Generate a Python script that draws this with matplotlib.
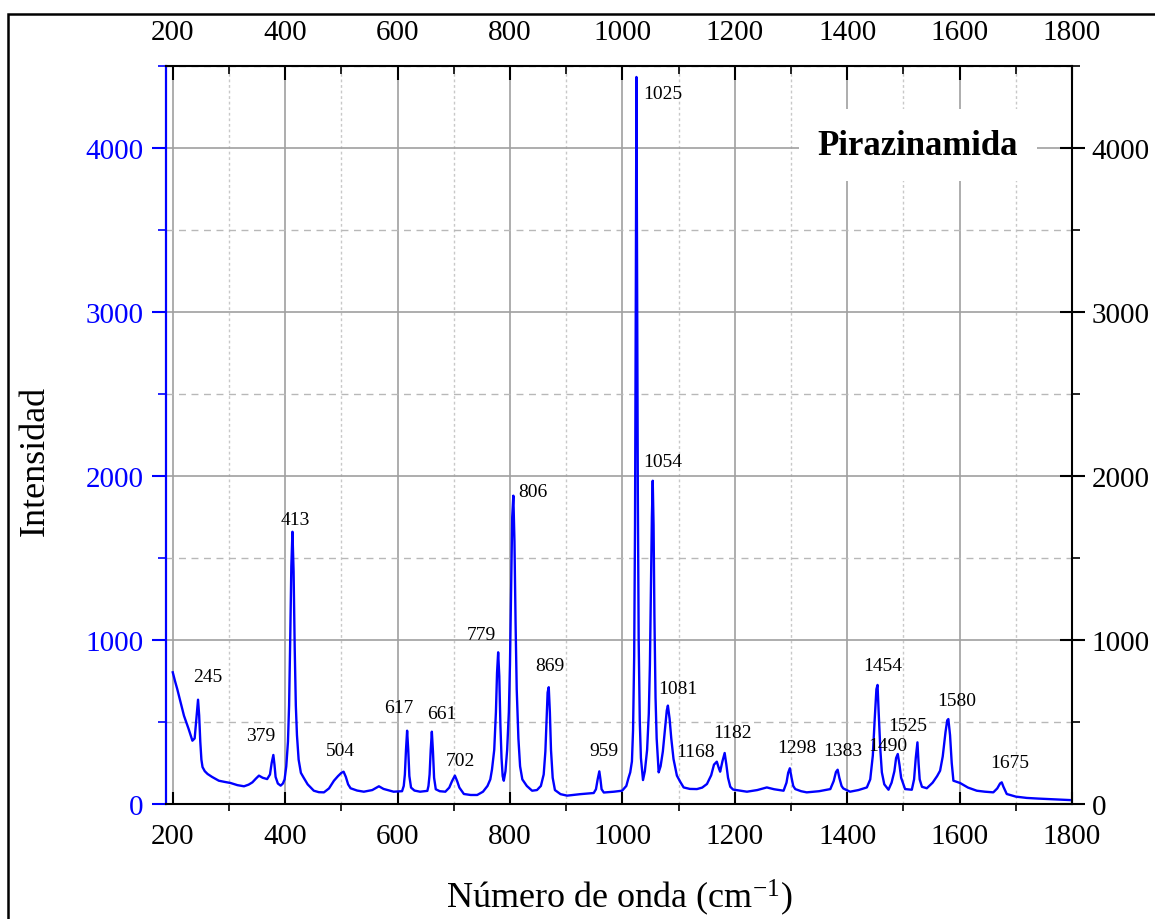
import matplotlib
matplotlib.use("Agg")
import matplotlib.pyplot as plt
from matplotlib.ticker import MultipleLocator
from matplotlib.patches import Rectangle

plt.rcParams['font.family'] = ['Liberation Serif', 'DejaVu Serif']
plt.rcParams['mathtext.default'] = 'regular'

# Raman spectrum, traced point by point (wavenumber cm-1 / intensity), 10 per row
wavenumber = [
    200, 204, 208, 214, 220, 228, 235, 239, 242, 245,
    247, 249, 251, 253, 257, 262, 270, 282, 292, 303,
    315, 326.8, 335, 341.7, 348, 353.4, 360, 368, 373, 376,
    379, 381, 383, 387, 392, 396, 399, 402, 405, 407,
    409, 411, 413, 415, 417, 419, 421, 424, 428, 433,
    440, 451, 460, 469, 478, 486.8, 494, 500, 504, 508,
    512, 516.4, 528, 540, 555, 566.8, 575, 593, 608, 611,
    613, 615, 617, 619, 621, 624, 630, 640, 653, 655,
    657, 659, 661, 663, 665, 668, 675, 685, 692, 697,
    702, 706, 710, 718, 730, 741.7, 752, 760, 765, 768,
    772, 775, 777, 779, 781, 783, 785, 787, 789, 792,
    795, 798, 800, 802, 804, 806, 808, 810, 812, 815,
    818, 822, 830, 839.4, 848, 855, 860, 863, 865, 867,
    869, 871, 873, 876, 880, 890, 901.7, 925, 949, 953,
    956, 959, 961, 963, 967, 985, 999.5, 1007, 1011, 1014,
    1017, 1019, 1021, 1022.5, 1024, 1025, 1026, 1027.5, 1029, 1031,
    1033, 1036.7, 1040, 1044, 1047, 1049, 1051, 1052.5, 1054, 1055.5,
    1057, 1059, 1061, 1064.6, 1068, 1072, 1076, 1079, 1081, 1084,
    1087, 1091, 1097, 1103, 1109, 1120, 1132.7, 1142, 1150.5, 1158,
    1163, 1168, 1172, 1174, 1178, 1182, 1185, 1188, 1192, 1197,
    1221.6, 1240, 1257, 1270, 1286.8, 1292, 1295, 1298, 1301, 1304,
    1307.6, 1318, 1328, 1350, 1370, 1376, 1380, 1383, 1386, 1390,
    1393, 1405, 1420, 1435, 1441, 1445.6, 1449, 1452, 1454, 1456,
    1459, 1461.7, 1466, 1473.5, 1479, 1484, 1487, 1490, 1493, 1496,
    1503, 1515, 1519, 1522, 1525, 1527, 1529, 1533, 1541.7, 1552,
    1560, 1565.3, 1570, 1575, 1578, 1580, 1583, 1586, 1589, 1595,
    1600.9, 1615, 1630.6, 1645, 1660, 1667, 1672, 1675, 1678, 1683.9,
    1700, 1719.5, 1740, 1760, 1780, 1796,
]
intensity = [
    803, 750, 701, 620, 538, 460, 386, 400, 520, 636,
    540, 380, 270, 225, 200, 183, 165, 142, 135, 128,
    115, 108, 118, 132, 155, 173, 160, 152, 180, 250,
    299, 240, 165, 125, 112, 125, 150, 230, 380, 600,
    1000, 1450, 1660, 1420, 950, 600, 420, 270, 190, 160,
    120, 81, 72, 71, 95, 142, 170, 190, 197, 165,
    120, 96, 82, 75, 85, 108, 92, 75, 78, 110,
    180, 330, 447, 330, 170, 100, 82, 75, 80, 110,
    180, 330, 441, 320, 160, 90, 78, 75, 100, 140,
    173, 140, 100, 61, 55, 55, 75, 110, 150, 210,
    330, 560, 800, 925, 780, 480, 280, 170, 142, 200,
    330, 560, 850, 1300, 1750, 1880, 1600, 1100, 700, 400,
    230, 150, 110, 81, 85, 110, 180, 320, 500, 680,
    712, 560, 330, 160, 85, 60, 51, 60, 67, 90,
    150, 199, 150, 90, 70, 75, 81, 110, 160, 193,
    260, 450, 900, 1700, 3200, 4433, 3400, 1900, 1000, 500,
    280, 146, 200, 330, 550, 850, 1350, 1750, 1971, 1700,
    1150, 650, 400, 193, 230, 320, 460, 570, 600, 520,
    400, 274, 173, 135, 101, 92, 91, 100, 122, 175,
    240, 258, 215, 197, 260, 311, 240, 160, 105, 88,
    75, 85, 101, 90, 81, 130, 190, 218, 160, 110,
    91, 78, 71, 78, 91, 140, 195, 209, 160, 110,
    95, 75, 85, 101, 150, 295, 520, 700, 726, 560,
    330, 193, 120, 87, 130, 200, 280, 305, 240, 160,
    91, 87, 150, 280, 376, 250, 150, 105, 96, 130,
    170, 203, 290, 440, 510, 518, 420, 250, 142, 135,
    128, 100, 81, 75, 71, 95, 125, 132, 105, 61,
    45, 37, 33, 30, 27, 24,
]

# labelled bands and their intensities
peak_pos = [245, 379, 413, 504, 617, 661, 702, 779, 806, 869, 959, 1025, 1054,
            1081, 1168, 1182, 1298, 1383, 1454, 1490, 1525, 1580, 1675]
peak_int = [636, 299, 1660, 197, 447, 441, 173, 925, 1880, 712, 199, 4433, 1971,
            600, 258, 311, 218, 209, 726, 305, 376, 518, 132]
# label offsets from the band top (points)
label_dx = [7, -9, 2, -2, -6, 7, 4, -12, 14, 1, 3, 19, 7,
            7, -15, 6, 5, 4, 4, -7, -7, 6, 6]
label_dy = [17, 14, 9, 15, 17, 13, 11, 13, 3, 16, 15, -12, 14,
            12, 7, 15, 15, 14, 14, 6, 12, 13, 14]

BLUE = '#0000ff'

fig = plt.figure(figsize=(11.55, 9.2), dpi=100)
ax = fig.add_axes([166/1155, 115/920, 906/1155, 738/920])

ax.plot(wavenumber, intensity, color=BLUE, lw=1.7, zorder=3)
ax.set_xlim(188, 1800)
ax.set_ylim(0, 4500)

ax.xaxis.set_major_locator(MultipleLocator(200))
ax.xaxis.set_minor_locator(MultipleLocator(100))
ax.yaxis.set_major_locator(MultipleLocator(1000))
ax.yaxis.set_minor_locator(MultipleLocator(500))

ax.grid(True, which='major', color='#a0a0a0', lw=1.2, zorder=0)
ax.grid(True, which='minor', axis='x', color='#c8c8c8', lw=1.0, ls=(0, (2, 2)), zorder=0)
ax.grid(True, which='minor', axis='y', color='#b8b8b8', lw=1.0, ls=(0, (5, 4)), zorder=0)
ax.set_axisbelow(True)

ax.tick_params(axis='x', which='major', direction='in', length=9, width=1.5,
               labelsize=21, pad=14, top=False)
ax.tick_params(axis='x', which='minor', direction='out', length=5, width=1.2, top=False)
ax.tick_params(axis='y', which='major', direction='out', length=10, width=1.5,
               labelsize=21, pad=6, color=BLUE, labelcolor=BLUE, right=False)
ax.tick_params(axis='y', which='minor', direction='out', length=6, width=1.2,
               color=BLUE, right=False)

for side in ['top', 'right']:
    ax.spines[side].set_visible(False)
ax.spines['left'].set_color(BLUE)
ax.spines['left'].set_linewidth(1.6)
ax.spines['bottom'].set_linewidth(1.5)

# right axis in black
axr = ax.twinx()
axr.set_ylim(0, 4500)
axr.yaxis.set_major_locator(MultipleLocator(1000))
axr.yaxis.set_minor_locator(MultipleLocator(500))
axr.tick_params(axis='y', which='major', direction='inout', length=18, width=1.5,
                labelsize=21, pad=5)
axr.tick_params(axis='y', which='minor', direction='out', length=6, width=1.2)
for side in ['top', 'left', 'bottom']:
    axr.spines[side].set_visible(False)
axr.spines['right'].set_linewidth(1.5)

# top axis
axt = ax.twiny()
axt.set_xlim(188, 1800)
axt.xaxis.set_major_locator(MultipleLocator(200))
axt.xaxis.set_minor_locator(MultipleLocator(100))
axt.tick_params(axis='x', which='major', direction='in', length=10, width=1.5,
                labelsize=21, pad=15)
axt.tick_params(axis='x', which='minor', direction='in', length=6, width=1.2)
for side in ['bottom', 'left', 'right']:
    axt.spines[side].set_visible(False)
axt.spines['top'].set_linewidth(1.5)

for x, y, dx, dy in zip(peak_pos, peak_int, label_dx, label_dy):
    ax.annotate(str(x), (x, y), xytext=(dx, dy), textcoords='offset points',
                ha='center', va='center', fontsize=14, zorder=4)

ax.text(1526, 4018, 'Pirazinamida', fontsize=25, fontweight='bold',
        ha='center', va='center', zorder=2,
        bbox=dict(boxstyle='square,pad=0.55', fc='white', ec='none'))

fig.text(35/1155, 1 - 461/920, 'Intensidad', rotation=90, fontsize=26,
         ha='center', va='center')
fig.text(619/1155, 1 - 898/920, 'Número de onda (cm$^{-1}$)', fontsize=26,
         ha='center', va='center')

# outer frame
fig.patches.append(Rectangle((8/1155, -0.05), 1.2, 1 - 15/920 + 0.05,
                             transform=fig.transFigure, fill=False,
                             ec='black', lw=1.8))

fig.savefig('out.png', dpi=100)
